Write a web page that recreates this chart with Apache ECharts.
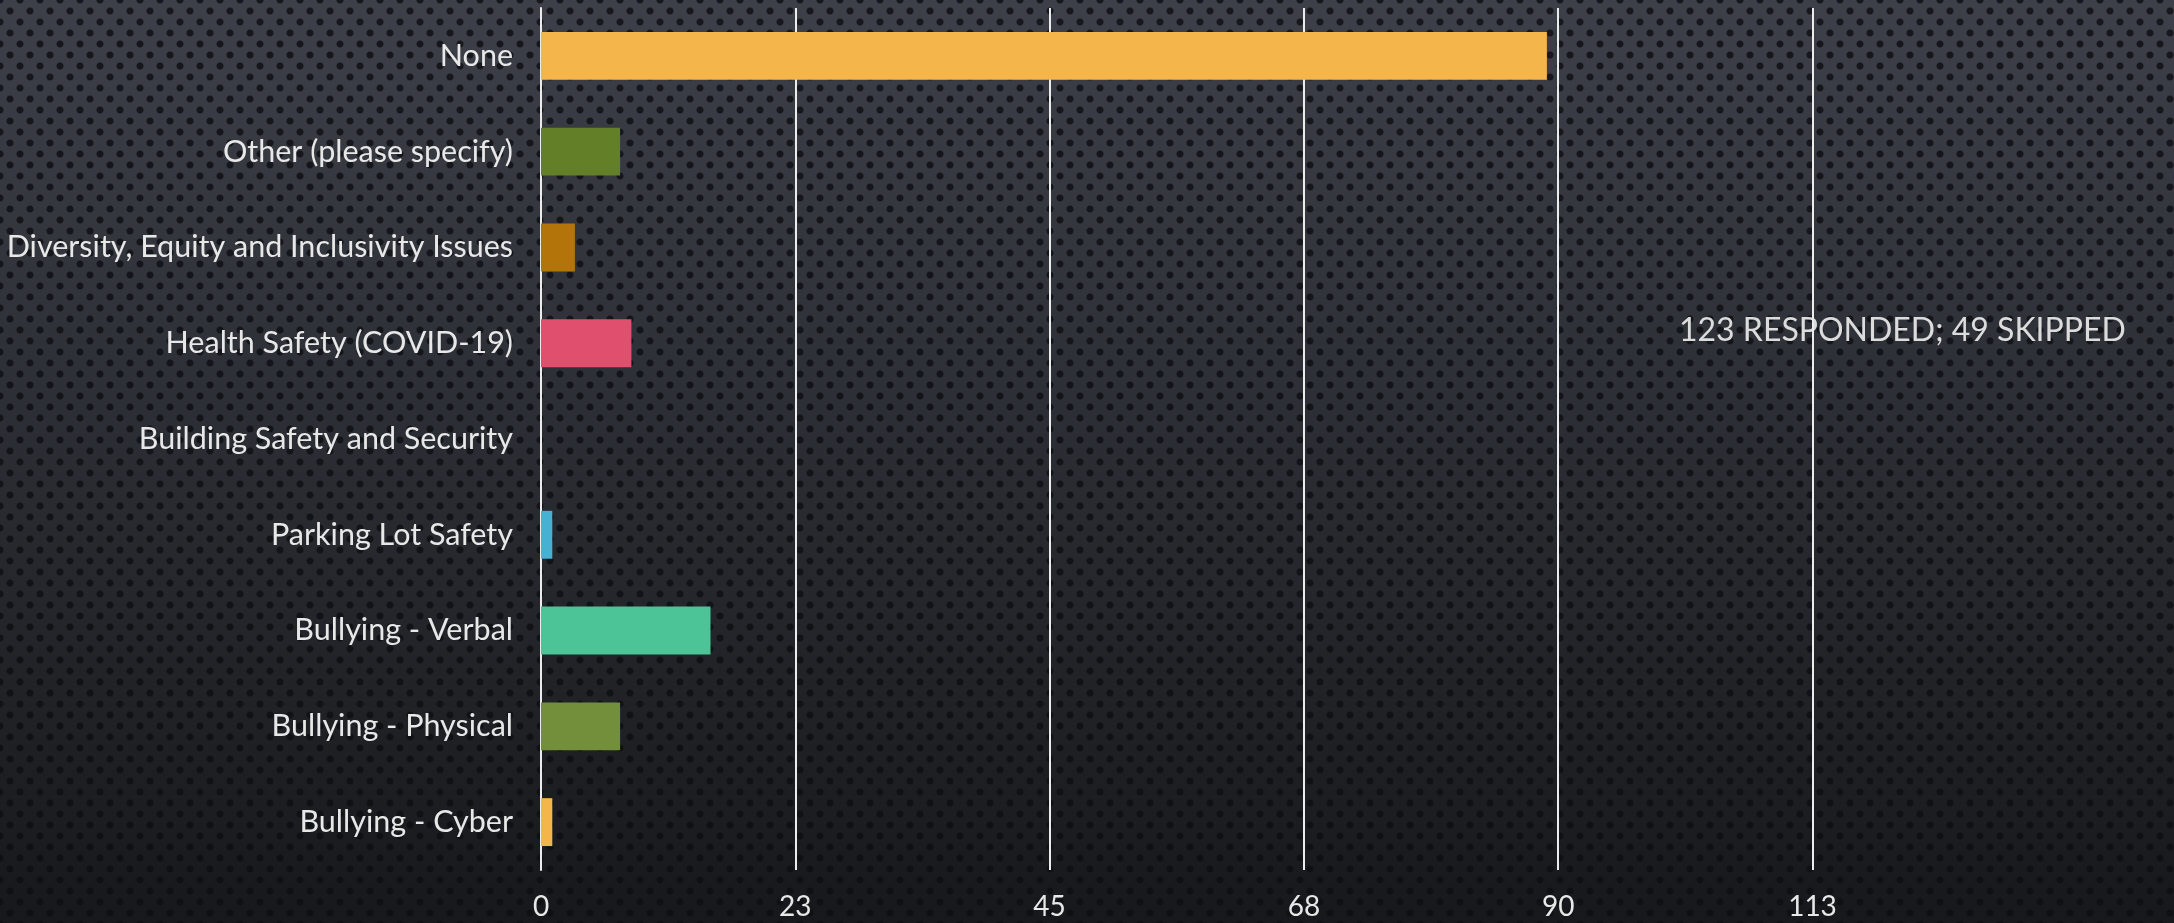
<!DOCTYPE html>
<html>
<head>
<meta charset="utf-8">
<script src="https://cdn.jsdelivr.net/npm/echarts@6/dist/echarts.min.js"></script>
<style>
html,body{margin:0;padding:0;width:2174px;height:923px;overflow:hidden;}
#chart{width:2174px;height:923px;
background-color:#2a2d32;
background-image:
 radial-gradient(circle, rgba(12,14,18,0.8) 3px, rgba(12,14,18,0) 4px),
 radial-gradient(circle, rgba(12,14,18,0.8) 3px, rgba(12,14,18,0) 4px),
 linear-gradient(to bottom, #3d4048 0%, #2b2e34 45%, #17181b 100%);
background-size:20px 22px,20px 22px,100% 100%;
background-position:0 0,10px 11px,0 0;}
</style>
</head>
<body>
<div id="chart"></div>
<script>
const categories = [
  "None",
  "Other (please specify)",
  "Diversity, Equity and Inclusivity Issues",
  "Health Safety (COVID-19)",
  "Building Safety and Security",
  "Parking Lot Safety",
  "Bullying - Verbal",
  "Bullying - Physical",
  "Bullying - Cyber"
];
const values = [89, 7, 3, 8, 0, 1, 15, 7, 1];
const barColors = ["#F4B64B", "#637F27", "#B3740A", "#E0506E", "#7F7F7F", "#46B1D3", "#4CC497", "#738F3B", "#F4B64B"];
const annotation = "123 RESPONDED; 49 SKIPPED";

const chart = echarts.init(document.getElementById('chart'), null, {renderer: 'canvas'});
const FONT = "Lato, 'Open Sans', sans-serif";
chart.setOption({
  backgroundColor: 'transparent',
  animation: false,
  grid: {left: 541, right: 361.5, top: 8, bottom: 53, containLabel: false},
  xAxis: {
    type: 'value', min: 0, max: 112.5, interval: 22.5,
    axisLine: {show: false}, axisTick: {show: false},
    splitLine: {show: true, lineStyle: {color: '#ececec', width: 2}},
    axisLabel: {color: '#e8e8e8', fontSize: 28, fontFamily: FONT, margin: 23,
      formatter: v => String(Math.round(v))}
  },
  yAxis: {
    type: 'category', data: categories, inverse: true,
    axisLine: {show: true, lineStyle: {color: '#ececec', width: 2}},
    axisTick: {show: false},
    axisLabel: {color: '#e8e8e8', fontSize: 30.5, fontFamily: FONT, margin: 28}
  },
  series: [{
    type: 'bar', barWidth: '50%',
    data: values.map((v, i) => ({value: v, itemStyle: {color: barColors[i]}}))
  }],
  graphic: [{
    type: 'text', left: 1679, top: 315, z: -1,
    style: {text: annotation, fill: '#dcdcdc', fontSize: 32, fontFamily: FONT}
  }]
});
</script>
</body>
</html>
